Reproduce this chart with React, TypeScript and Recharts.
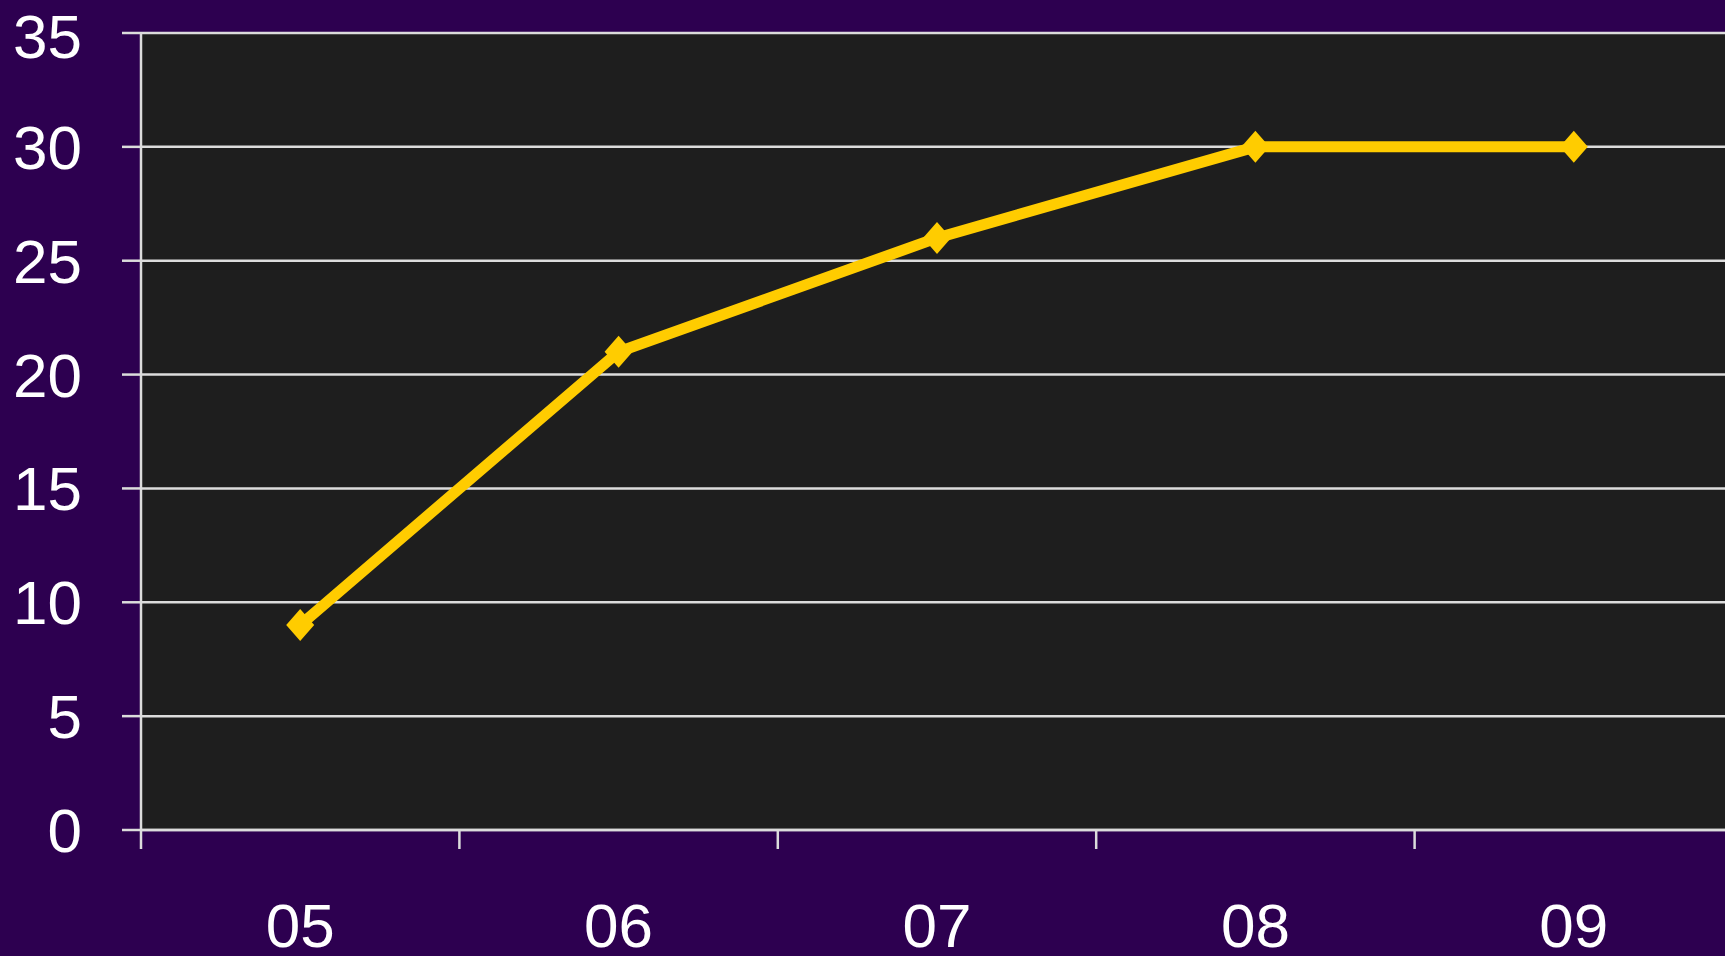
import { LineChart, Line, XAxis, YAxis, CartesianGrid } from "recharts";

const years = ["05", "06", "07", "08", "09"];
const values = [9, 21, 26, 30, 30];
const yTicks = [0, 5, 10, 15, 20, 25, 30, 35];

const data = years.map((year, i) => ({ year, value: values[i] }));

const BG = "#2d0050";
const PLOT = "#1e1e1e";
const GRID = "#dcdcdc";
const LINE = "#ffcc00";
const FONT = "'Liberation Sans', Arial, sans-serif";
const X_MARGIN = 73;
const TICK_LEN = 19;

function Diamond(props: { cx?: number; cy?: number }) {
  const { cx, cy } = props;
  if (cx == null || cy == null) return null;
  const w = 14;
  const h = 16;
  return (
    <polygon
      points={`${cx},${cy - h} ${cx + w},${cy} ${cx},${cy + h} ${cx - w},${cy}`}
      fill={LINE}
    />
  );
}

// category label at band centre, tick mark at the band's left (and last right) edge
function YearTick(props: any) {
  const { x, y, payload, index, visibleTicksCount } = props;
  const half = payload?.offset ?? 0;
  const axisY = y - X_MARGIN;
  const edges = [x - half];
  if (index === visibleTicksCount - 1) edges.push(x + half);
  return (
    <g>
      {edges.map((ex) => (
        <line
          key={ex}
          x1={ex}
          x2={ex}
          y1={axisY}
          y2={axisY + TICK_LEN}
          stroke={GRID}
          strokeWidth={2.5}
        />
      ))}
      <text
        x={x}
        y={y}
        dy="0.71em"
        textAnchor="middle"
        fill="#ffffff"
        fontSize={62}
        fontFamily={FONT}
      >
        {payload.value}
      </text>
    </g>
  );
}

export default function App() {
  return (
    <div
      style={{
        position: "fixed",
        left: 0,
        top: 0,
        width: 1725,
        height: 956,
        overflow: "hidden",
        background: BG,
      }}
    >
      <LineChart
        width={1740}
        height={956}
        data={data}
        margin={{ top: 33, right: 7, bottom: 0, left: 0 }}
      >
        <CartesianGrid horizontal vertical={false} fill={PLOT} stroke={GRID} strokeWidth={2.5} />
        <XAxis
          dataKey="year"
          scale="band"
          height={126}
          axisLine={{ stroke: GRID, strokeWidth: 2.5 }}
          tickLine={false}
          tickSize={0}
          tickMargin={X_MARGIN}
          tick={<YearTick />}
        />
        <YAxis
          domain={[0, 35]}
          ticks={yTicks}
          width={141}
          tickSize={TICK_LEN}
          tickMargin={40}
          axisLine={{ stroke: GRID, strokeWidth: 2.5 }}
          tickLine={{ stroke: GRID, strokeWidth: 2.5 }}
          tick={{ fill: "#ffffff", fontSize: 62, fontFamily: FONT }}
        />
        <Line
          dataKey="value"
          stroke={LINE}
          strokeWidth={11}
          dot={<Diamond />}
          activeDot={false}
          isAnimationActive={false}
        />
      </LineChart>
    </div>
  );
}
